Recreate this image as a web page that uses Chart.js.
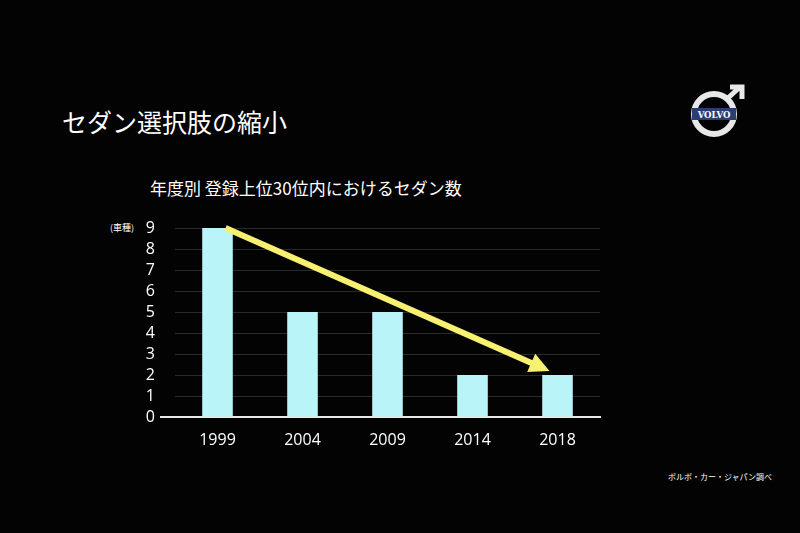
<!DOCTYPE html>
<html><head><meta charset="utf-8">
<script src="https://cdn.jsdelivr.net/npm/chart.js@4"></script>
<style>
html,body{margin:0;padding:0;background:#030303;width:800px;height:533px;overflow:hidden;font-family:"Noto Sans CJK JP","Noto Sans",sans-serif;color:#fff}
#wrap{position:absolute;left:0;top:0;width:800px;height:533px}
.t{position:absolute;white-space:nowrap}
</style></head><body>
<div class="t" style="left:62px;top:103px;font-size:25px;">セダン選択肢の縮小</div>
<div class="t" style="left:150px;top:175px;font-size:17px;">年度別 登録上位30位内におけるセダン数</div>
<div class="t" style="left:110px;top:221px;font-size:9px;">(車種)</div>
<div class="t" style="left:668px;top:471px;font-size:8px;">ボルボ・カー・ジャパン調べ</div>
<svg style="position:absolute;left:686px;top:84px" width="62" height="56" viewBox="0 0 62 56">
<circle cx="28" cy="30" r="20" fill="none" stroke="#e8e8e8" stroke-width="6"/>
<path d="M42 14 L54 3 M44 3 L56 3 L56 15" stroke="#e8e8e8" stroke-width="5" fill="none"/>
<rect x="6" y="24" width="44" height="12" fill="#2a3f70"/>
<text x="28" y="33.5" font-size="8.5" fill="#fff" text-anchor="middle" font-family="DejaVu Serif" font-weight="bold">VOLVO</text>
</svg>
<div id="wrap"><canvas id="c" width="800" height="533"></canvas></div>
<script>
const categories=["1999","2004","2009","2014","2018"];
const values=[9,5,5,2,2];
const yTicks=[0,1,2,3,4,5,6,7,8,9];
const arrowFrom={x:0,y:9};
const arrowTo={x:4,y:2};
const arrowPlugin={id:'arrow',afterDatasetsDraw(ch){
  const xs=ch.scales.x,ys=ch.scales.y,ctx=ch.ctx;
  const x1=xs.getPixelForValue(arrowFrom.x)+8,y1=ys.getPixelForValue(arrowFrom.y);
  const x2=xs.getPixelForValue(arrowTo.x)-8,y2=ys.getPixelForValue(arrowTo.y)-4;
  const a=Math.atan2(y2-y1,x2-x1);const hl=20;
  ctx.save();
  ctx.strokeStyle='#e8e8e8';ctx.lineWidth=2;ctx.beginPath();
  ctx.moveTo(160,ys.getPixelForValue(0));ctx.lineTo(ch.chartArea.left,ys.getPixelForValue(0));ctx.stroke();
  ctx.strokeStyle='#f8f070';ctx.fillStyle='#f8f070';ctx.lineWidth=6;
  ctx.beginPath();ctx.moveTo(x1,y1);ctx.lineTo(x2-hl*0.8*Math.cos(a),y2-hl*0.8*Math.sin(a));ctx.stroke();
  ctx.beginPath();ctx.moveTo(x2,y2);
  ctx.lineTo(x2-hl*Math.cos(a)+10*Math.sin(a),y2-hl*Math.sin(a)-10*Math.cos(a));
  ctx.lineTo(x2-hl*Math.cos(a)-10*Math.sin(a),y2-hl*Math.sin(a)+10*Math.cos(a));
  ctx.closePath();ctx.fill();ctx.restore();
}};
new Chart(document.getElementById('c'),{type:'bar',
data:{labels:categories,datasets:[{data:values,backgroundColor:'#b8f4f8',barPercentage:0.36,categoryPercentage:1}]},
options:{responsive:false,animation:false,events:[],
layout:{padding:{left:0,right:200,top:228,bottom:0}},
plugins:{legend:{display:false},tooltip:{enabled:false}},
scales:{
 x:{afterFit(s){s.height=116;},grid:{display:false},border:{color:'#e8e8e8',width:2},
   ticks:{color:'#fff',font:{size:16,family:'Open Sans'},padding:6}},
 y:{min:0,max:9,afterFit(s){s.width=175;},afterBuildTicks(s){s.ticks=yTicks.map(v=>({value:v}));},
   grid:{color:'#2a2a2a',drawTicks:false},border:{display:false},
   ticks:{color:'#fff',font:{size:16,family:'Open Sans'},padding:20,autoSkip:false,stepSize:1}}
}},plugins:[arrowPlugin]});
</script></body></html>
